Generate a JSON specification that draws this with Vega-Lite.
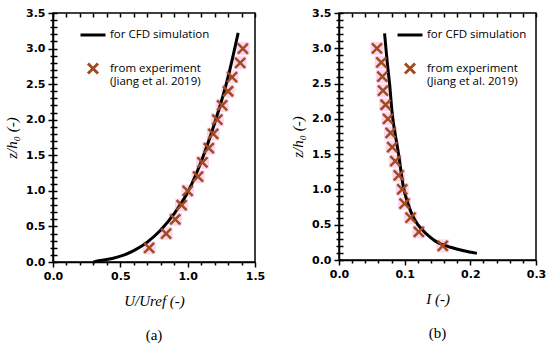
{
  "$schema": "https://vega.github.io/schema/vega-lite/v6.json",
  "padding": {"left": 3, "top": 6, "right": 5, "bottom": 5},
  "background": "white",
  "datasets": {
    "u_cfd": [
      {"U": 0.30, "z": 0.0}, {"U": 0.35, "z": 0.02}, {"U": 0.44, "z": 0.05}, {"U": 0.53, "z": 0.10},
      {"U": 0.60, "z": 0.16}, {"U": 0.70, "z": 0.28}, {"U": 0.80, "z": 0.45}, {"U": 0.90, "z": 0.68},
      {"U": 1.00, "z": 0.98}, {"U": 1.10, "z": 1.41}, {"U": 1.20, "z": 1.95}, {"U": 1.30, "z": 2.60},
      {"U": 1.375, "z": 3.22}
    ],
    "u_exp": [
      {"U": 0.714, "z": 0.2, "series": "from experiment"}, {"U": 0.84, "z": 0.4, "series": "from experiment"},
      {"U": 0.908, "z": 0.6, "series": "from experiment"}, {"U": 0.955, "z": 0.8, "series": "from experiment"},
      {"U": 1.0, "z": 1.0, "series": "from experiment"}, {"U": 1.077, "z": 1.2, "series": "from experiment"},
      {"U": 1.11, "z": 1.4, "series": "from experiment"}, {"U": 1.157, "z": 1.6, "series": "from experiment"},
      {"U": 1.19, "z": 1.8, "series": "from experiment"}, {"U": 1.22, "z": 2.0, "series": "from experiment"},
      {"U": 1.256, "z": 2.2, "series": "from experiment"}, {"U": 1.30, "z": 2.4, "series": "from experiment"},
      {"U": 1.33, "z": 2.6, "series": "from experiment"}, {"U": 1.39, "z": 2.8, "series": "from experiment"},
      {"U": 1.41, "z": 3.0, "series": "from experiment"}
    ],
    "i_cfd": [
      {"I": 0.0694, "z": 3.21}, {"I": 0.0735, "z": 2.8}, {"I": 0.077, "z": 2.5}, {"I": 0.082, "z": 2.0},
      {"I": 0.0907, "z": 1.5}, {"I": 0.0988, "z": 1.0}, {"I": 0.105, "z": 0.8}, {"I": 0.111, "z": 0.65},
      {"I": 0.120, "z": 0.5}, {"I": 0.133, "z": 0.37}, {"I": 0.150, "z": 0.25}, {"I": 0.170, "z": 0.18},
      {"I": 0.190, "z": 0.13}, {"I": 0.210, "z": 0.094}
    ],
    "i_exp": [
      {"I": 0.158, "z": 0.2, "series": "from experiment"}, {"I": 0.1216, "z": 0.4, "series": "from experiment"},
      {"I": 0.109, "z": 0.6, "series": "from experiment"}, {"I": 0.0998, "z": 0.8, "series": "from experiment"},
      {"I": 0.0963, "z": 1.0, "series": "from experiment"}, {"I": 0.091, "z": 1.2, "series": "from experiment"},
      {"I": 0.0857, "z": 1.4, "series": "from experiment"}, {"I": 0.081, "z": 1.6, "series": "from experiment"},
      {"I": 0.0786, "z": 1.8, "series": "from experiment"}, {"I": 0.0745, "z": 2.0, "series": "from experiment"},
      {"I": 0.071, "z": 2.2, "series": "from experiment"}, {"I": 0.067, "z": 2.4, "series": "from experiment"},
      {"I": 0.066, "z": 2.6, "series": "from experiment"}, {"I": 0.0644, "z": 2.8, "series": "from experiment"},
      {"I": 0.0578, "z": 3.0, "series": "from experiment"}
    ]
  },
  "hconcat": [
    {
      "width": 202,
      "height": 249,
      "title": {"text": "(a)", "orient": "bottom", "font": "Liberation Serif", "fontSize": 15, "fontWeight": "normal", "offset": 20},
      "encoding": {
        "x": {"field": "U", "type": "quantitative", "scale": {"domain": [0, 1.5], "nice": false},
          "axis": {"values": [0,0.1,0.2,0.3,0.4,0.5,0.6,0.7,0.8,0.9,1,1.1,1.2,1.3,1.4,1.5],
            "labelExpr": "(round(datum.value*10) % 5 == 0) ? format(datum.value, '.1f') : ''",
            "tickSize": {"condition": {"test": "round(datum.value*10) % 5 == 0", "value": 5}, "value": 3},
            "title": "U/Uref (-)"}},
        "y": {"field": "z", "type": "quantitative", "scale": {"domain": [0, 3.5], "nice": false},
          "axis": {"values": [0,0.1,0.2,0.3,0.4,0.5,0.6,0.7,0.8,0.9,1,1.1,1.2,1.3,1.4,1.5,1.6,1.7,1.8,1.9,2,2.1,2.2,2.3,2.4,2.5,2.6,2.7,2.8,2.9,3,3.1,3.2,3.3,3.4,3.5],
            "labelExpr": "(round(datum.value*10) % 5 == 0) ? format(datum.value, '.1f') : ''",
            "tickSize": {"condition": {"test": "round(datum.value*10) % 5 == 0", "value": 5}, "value": 3},
            "title": "z/h₀ (-)"}}
      },
      "layer": [
        {
          "data": {"name": "u_exp"},
          "mark": {"type": "point", "shape": "square", "filled": true, "color": "#fbd6ef", "size": 170, "opacity": 1}
        },
        {
          "data": {"name": "u_cfd"},
          "mark": {"type": "line", "color": "black", "strokeWidth": 3, "interpolate": "monotone"},
          "encoding": {"order": {"field": "z"}}
        },
        {
          "data": {"name": "u_exp"},
          "mark": {"type": "point", "filled": false, "strokeWidth": 2.5, "opacity": 1},
          "encoding": {
            "shape": {"field": "series", "type": "nominal",
              "scale": {"domain": ["for CFD simulation", "from experiment"], "range": ["stroke", "M-1,-1L1,1M-1,1L1,-1"]},
              "legend": {"title": null, "orient": "none", "legendX": 26, "legendY": 8, "labelExpr": "datum.label == 'from experiment' ? ['from experiment', '(Jiang et al. 2019)'] : datum.label"}},
            "color": {"field": "series", "type": "nominal",
              "scale": {"domain": ["for CFD simulation", "from experiment"], "range": ["black", "#a24a20"]},
              "legend": {"title": null, "orient": "none", "legendX": 26, "legendY": 8, "labelExpr": "datum.label == 'from experiment' ? ['from experiment', '(Jiang et al. 2019)'] : datum.label"}},
            "size": {"field": "series", "type": "nominal",
              "scale": {"domain": ["for CFD simulation", "from experiment"], "range": [625, 100]},
              "legend": {"title": null, "orient": "none", "legendX": 26, "legendY": 8, "labelExpr": "datum.label == 'from experiment' ? ['from experiment', '(Jiang et al. 2019)'] : datum.label"}}
          }
        }
      ]
    },
    {
      "width": 197,
      "height": 247,
      "title": {"text": "(b)", "orient": "bottom", "font": "Liberation Serif", "fontSize": 15, "fontWeight": "normal", "offset": 20},
      "encoding": {
        "x": {"field": "I", "type": "quantitative", "scale": {"domain": [0, 0.3], "nice": false},
          "axis": {"values": [0,0.02,0.04,0.06,0.08,0.1,0.12,0.14,0.16,0.18,0.2,0.22,0.24,0.26,0.28,0.3],
            "labelExpr": "(round(datum.value*100) % 10 == 0) ? format(datum.value, '.1f') : ''",
            "tickSize": {"condition": {"test": "round(datum.value*100) % 10 == 0", "value": 5}, "value": 3},
            "title": "I (-)"}},
        "y": {"field": "z", "type": "quantitative", "scale": {"domain": [0, 3.5], "nice": false},
          "axis": {"values": [0,0.1,0.2,0.3,0.4,0.5,0.6,0.7,0.8,0.9,1,1.1,1.2,1.3,1.4,1.5,1.6,1.7,1.8,1.9,2,2.1,2.2,2.3,2.4,2.5,2.6,2.7,2.8,2.9,3,3.1,3.2,3.3,3.4,3.5],
            "labelExpr": "(round(datum.value*10) % 5 == 0) ? format(datum.value, '.1f') : ''",
            "tickSize": {"condition": {"test": "round(datum.value*10) % 5 == 0", "value": 5}, "value": 3},
            "title": "z/h₀ (-)"}}
      },
      "layer": [
        {
          "data": {"name": "i_exp"},
          "mark": {"type": "point", "shape": "square", "filled": true, "color": "#fbd6ef", "size": 170, "opacity": 1}
        },
        {
          "data": {"name": "i_cfd"},
          "mark": {"type": "line", "color": "black", "strokeWidth": 3, "interpolate": "catmull-rom"},
          "encoding": {"order": {"field": "z"}}
        },
        {
          "data": {"name": "i_exp"},
          "mark": {"type": "point", "filled": false, "strokeWidth": 2.5, "opacity": 1},
          "encoding": {
            "shape": {"field": "series", "type": "nominal",
              "scale": {"domain": ["for CFD simulation", "from experiment"], "range": ["stroke", "M-1,-1L1,1M-1,1L1,-1"]},
              "legend": {"title": null, "orient": "none", "legendX": 57, "legendY": 8, "labelExpr": "datum.label == 'from experiment' ? ['from experiment', '(Jiang et al. 2019)'] : datum.label"}},
            "color": {"field": "series", "type": "nominal",
              "scale": {"domain": ["for CFD simulation", "from experiment"], "range": ["black", "#a24a20"]},
              "legend": {"title": null, "orient": "none", "legendX": 57, "legendY": 8, "labelExpr": "datum.label == 'from experiment' ? ['from experiment', '(Jiang et al. 2019)'] : datum.label"}},
            "size": {"field": "series", "type": "nominal",
              "scale": {"domain": ["for CFD simulation", "from experiment"], "range": [625, 100]},
              "legend": {"title": null, "orient": "none", "legendX": 57, "legendY": 8, "labelExpr": "datum.label == 'from experiment' ? ['from experiment', '(Jiang et al. 2019)'] : datum.label"}}
          }
        }
      ]
    }
  ],
  "resolve": {"scale": {"shape": "independent", "color": "independent", "size": "independent"}, "legend": {"shape": "independent", "color": "independent", "size": "independent"}},
  "spacing": 23,
  "config": {
    "view": {"stroke": "black", "strokeWidth": 1.5},
    "axis": {
      "domainColor": "black", "domainWidth": 1.5, "tickColor": "black", "tickWidth": 1.5, "tickSize": 5,
      "grid": true, "gridColor": "black", "gridWidth": 1.5, "gridDash": [4, 2000], "gridOpacity": 1, "zindex": 1,
      "labelFlush": false, "labelPadding": 3,
      "labelFont": "DejaVu Sans", "labelFontWeight": "bold", "labelFontSize": 11, "labelColor": "black",
      "titleFont": "Liberation Serif", "titleFontStyle": "italic", "titleFontWeight": "normal", "titleFontSize": 15, "titleColor": "black"
    },
    "axisY": {"titlePadding": 6},
    "axisX": {"titlePadding": 12},
    "legend": {
      "labelFont": "Open Sans", "labelFontSize": 11.5, "labelColor": "black", "symbolStrokeWidth": 3,
      "rowPadding": 16, "labelOffset": 3, "labelLimit": 200
    }
  }
}
